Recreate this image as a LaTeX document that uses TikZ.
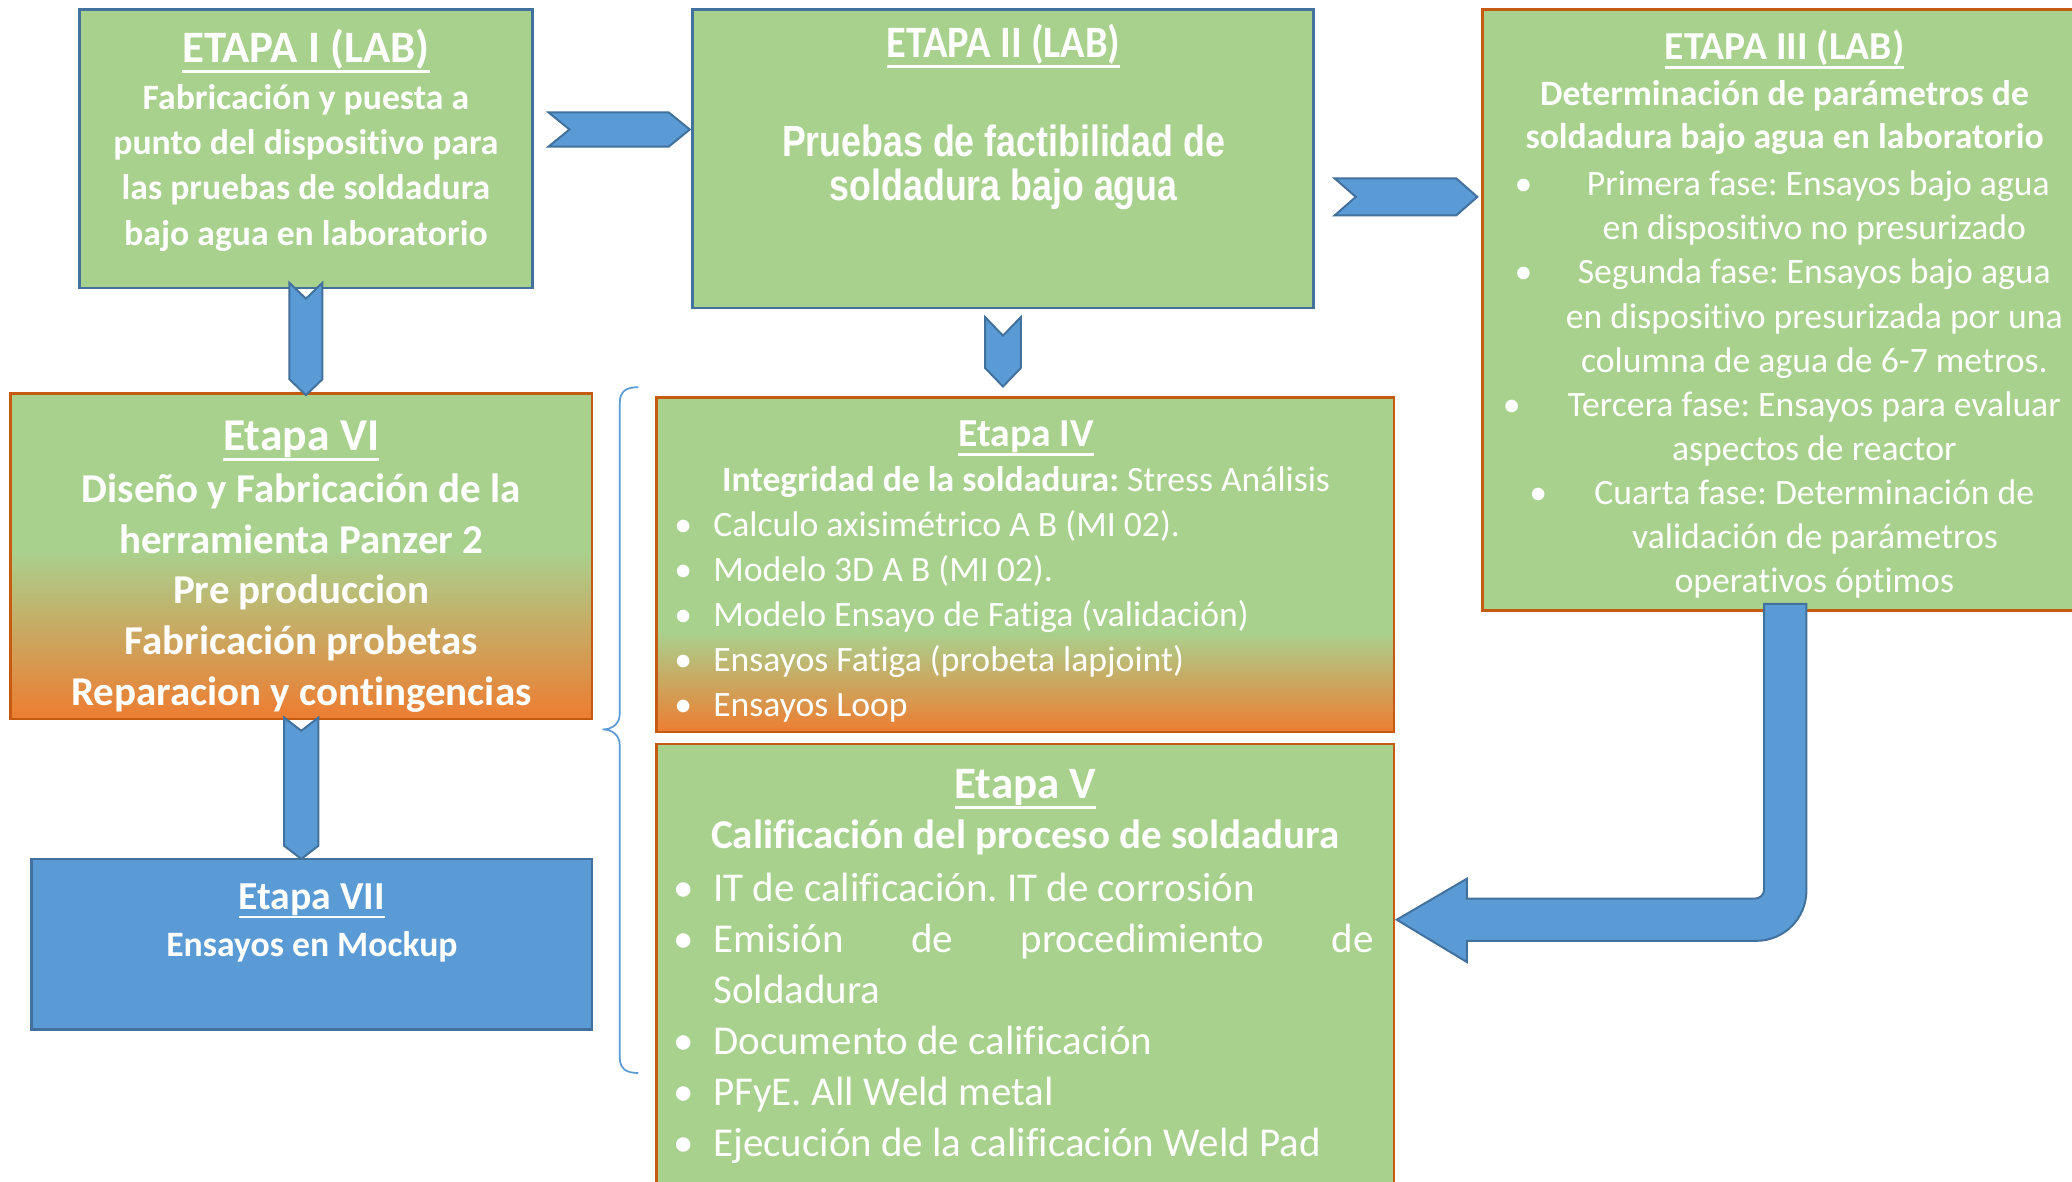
\documentclass[tikz,border=0pt]{standalone}
\usepackage{fontspec}
\setmainfont{Carlito}[Ligatures=CommonOff]
\newfontfamily\narrowsans{Liberation Sans}[FakeStretch=0.82,Ligatures=CommonOff]
\newfontfamily\carlitonarrow{Carlito}[FakeStretch=0.9,Ligatures=CommonOff]
\usetikzlibrary{calc}
\frenchspacing
\definecolor{boxgreen}{HTML}{A9D18E}
\definecolor{boxblue}{HTML}{5B9BD5}
\definecolor{edgeblue}{HTML}{41719C}
\definecolor{edgeorange}{HTML}{C55A11}
\definecolor{gradorange}{HTML}{ED7D31}
\pgfdeclareverticalshading{vishade}{100bp}{color(0bp)=(gradorange); color(25bp)=(gradorange); color(51bp)=(boxgreen); color(100bp)=(boxgreen)}
\pgfdeclareverticalshading{ivshade}{100bp}{color(0bp)=(gradorange); color(25bp)=(gradorange); color(40bp)=(boxgreen); color(100bp)=(boxgreen)}
\newsavebox\ulsave
\newcommand\ultitle[1]{\sbox\ulsave{#1}\rlap{\rule[-0.235em]{\wd\ulsave}{0.065em}}\usebox\ulsave}
% horizontal chevron: #1 left-centre coordinate, #2 length, #3 half height, #4 depth
\newcommand\chevH[4]{\path[blockarrow] (#1) ++(0,-#3) -- ++(#2-#4,0) -- ++(#4,#3) -- ++(-#4,#3) -- ++(#4-#2,0) -- ++(#4,-#3) -- cycle;}
% vertical chevron: #1 top-centre coordinate, #2 length, #3 half width, #4 depth
\newcommand\chevV[4]{\path[blockarrow] (#1) ++(-#3,0) -- ++(#3,#4) -- ++(#3,-#4) -- ++(0,#2-#4) -- ++(-#3,#4) -- ++(-#3,-#4) -- cycle;}
\tikzset{
  stagebox/.style={rectangle, inner sep=0pt, outer sep=0pt, line width=2pt, anchor=north west},
  greenbox/.style={stagebox, fill=boxgreen},
  txt/.style={text=white, inner sep=0pt, outer sep=0pt, anchor=base},
  txtl/.style={txt, anchor=base west},
  blockarrow/.style={fill=boxblue, draw=edgeblue, line width=1.5pt, line join=miter},
  bracestyle/.style={draw=boxblue, line width=1.3pt},
  fbig/.style={font=\fontsize{34}{40}\selectfont\bfseries},
  fmid/.style={font=\fontsize{30}{36}\selectfont\bfseries},
  fbold/.style={font=\fontsize{27}{33}\selectfont\bfseries},
  fboldl/.style={font=\fontsize{31}{38}\selectfont\bfseries},
  freg/.style={font=\fontsize{27}{33}\selectfont},
  fregl/.style={font=\fontsize{31}{38}\selectfont}
}
\begin{document}
\begin{tikzpicture}[x=1pt,y=-1pt]
\useasboundingbox (0,0) rectangle (1568,894);
\fill[white] (0,0) rectangle (1568,894);
\clip (0,0) rectangle (1568,894);

% ---------- boxes ----------
\node[greenbox, draw=edgeblue, minimum width=343, minimum height=211] (e1) at (60,7) {};
\node[greenbox, draw=edgeblue, minimum width=470, minimum height=226] (e2) at (524,7) {};
\node[greenbox, draw=edgeorange, minimum width=480, minimum height=455] (e3) at (1122,7) {};
\node[stagebox, shade, shading=vishade, draw=edgeorange, minimum width=440, minimum height=246] (e6) at (8,298) {};
\node[stagebox, shade, shading=ivshade, draw=edgeorange, minimum width=558, minimum height=253] (e4) at (497,301) {};
\node[greenbox, draw=edgeorange, minimum width=558, minimum height=345] (e5) at (497,563) {};
\node[stagebox, fill=boxblue, draw=edgeblue, minimum width=424, minimum height=129] (e7) at (24,650) {};

% ---------- block arrows ----------
\coordinate (a12) at (415,98);
\coordinate (a23) at (1010,149);
\coordinate (a16) at ($(e1.south)+(0,-4)$);
\coordinate (a24) at ($(e2.south)+(0,7)$);
\coordinate (a67) at ($(e6.south)+(0,-1)$);
\chevH{a12}{107}{13}{16}
\chevH{a23}{108}{14}{16}
\chevV{a16}{85}{12.5}{12}
\chevV{a24}{52.5}{13.5}{14}
\chevV{a67}{107}{13}{10}

% bent arrow from Etapa III to Etapa V
\coordinate (bentTop) at (1351,457);
\coordinate (bentTip) at (1057,696);
\path[blockarrow] ($(bentTop)+(-16,0)$) -- (1335,673) .. controls (1335,677) and (1332,680) .. (1328,680)
  -- (1110,680) -- (1110,665) -- (bentTip) -- (1110,728) -- (1110,712) -- (1329,712)
  .. controls (1350,712) and (1367,695) .. (1367,674) -- ($(bentTop)+(16,0)$) -- cycle;

% brace
\coordinate (brTop) at (483,293);
\coordinate (brMid) at (456,552);
\coordinate (brBot) at (483,812);
\draw[bracestyle] (brTop) .. controls (474,293) and (469,296) .. (469,305) -- (469,540)
  .. controls (469,548) and (463,552) .. (brMid) .. controls (463,552) and (469,556) .. (469,564)
  -- (469,800) .. controls (469,809) and (474,812) .. (brBot);

% ---------- ETAPA I ----------
\node[txt, fbig] (e1t) at (231.5,47.5) {\ultitle{ETAPA I (LAB)}};
\foreach \s [count=\i] in {{Fabricación y puesta a},{punto del dispositivo para},{las pruebas de soldadura},{bajo agua en laboratorio}}
  \node[txt, fbold] (e1l\i) at (231.5,83.2+34.07*\i-34.07) {\s};

% ---------- ETAPA II ----------
\node[txt, font=\fontsize{34}{40}\selectfont\bfseries\carlitonarrow] (e2t) at (759.5,43.4) {\ultitle{ETAPA II (LAB)}};
\node[txt, font=\fontsize{33}{33}\selectfont\narrowsans\bfseries] (e2l1) at (759.5,118.5) {Pruebas de factibilidad de};
\node[txt, font=\fontsize{33}{33}\selectfont\narrowsans\bfseries] (e2l2) at (759.5,151.5) {soldadura bajo agua};

% ---------- ETAPA III ----------
\node[txt, fmid] (e3t) at (1350.5,45) {\ultitle{ETAPA III (LAB)}};
\node[txt, fbold] (e3h1) at (1350.5,80.2) {Determinación de parámetros de};
\node[txt, fbold] (e3h2) at (1350.5,112.2) {soldadura bajo agua en laboratorio};
\foreach \cx/\s [count=\i] in {1376/{Primera fase: Ensayos bajo agua},1373/{en dispositivo no presurizado},1373/{Segunda fase: Ensayos bajo agua},1373/{en dispositivo presurizada por una},1373/{columna de agua de 6-7 metros.},1373/{Tercera fase: Ensayos para evaluar},1373/{aspectos de reactor},1373/{Cuarta fase: Determinación de},1373.5/{validación de parámetros},1373/{operativos óptimos}}
  \node[txt, freg] (e3l\i) at (\cx,148.1+33.4*\i-33.4) {\s};
\node[txt, freg] (e3b1) at (1153,148.1) {•};
\node[txt, freg] (e3b2) at (1153,214.9) {•};
\node[txt, freg] (e3b3) at (1144,315.1) {•};
\node[txt, freg] (e3b4) at (1164,381.9) {•};

% ---------- Etapa IV ----------
\node[txt, fmid] (e4t) at (776.5,338) {\ultitle{Etapa IV}};
\node[txt, freg] (e4h) at (776.5,372) {{\bfseries Integridad de la soldadura:} Stress Análisis};
\foreach \s [count=\i] in {{Calculo axisimétrico A B (MI 02).},{Modelo 3D A B (MI 02).},{Modelo Ensayo de Fatiga (validación)},{Ensayos Fatiga (probeta lapjoint)},{Ensayos Loop}}
{
  \node[txt, freg] (e4b\i) at (517,406+34*\i-34) {•};
  \node[txtl, freg] (e4l\i) at (539.8,406+34*\i-34) {\s};
}

% ---------- Etapa V ----------
\node[txt, fbig] (e5t) at (776,604) {\ultitle{Etapa V}};
\node[txt, fboldl] (e5h) at (776,642) {Calificación del proceso de soldadura};
\node[txtl, fregl] (e5l1) at (539.8,682) {IT de calificación. IT de corrosión};
\node[txtl, fregl] (e5l2) at (539.8,720.7) {\hbox to 500pt{Emisión\hfill de\hfill procedimiento\hfill de}};
\node[txtl, fregl] (e5l3) at (539.8,759.4) {Soldadura};
\node[txtl, fregl] (e5l4) at (539.8,798.1) {Documento de calificación};
\node[txtl, fregl] (e5l5) at (539.8,836.8) {PFyE. All Weld metal};
\node[txtl, fregl] (e5l6) at (539.8,875.5) {Ejecución de la calificación Weld Pad};
\foreach \yy [count=\i] in {682,720.7,798.1,836.8,875.5}
  \node[txt, fregl] (e5b\i) at (517.6,\yy) {•};

% ---------- Etapa VI ----------
\node[txt, font=\fontsize{34.5}{40}\selectfont\bfseries] (e6t) at (228,340.6) {\ultitle{Etapa VI}};
\foreach \s [count=\i] in {{Diseño y Fabricación de la},{herramienta Panzer 2},{Pre produccion},{Fabricación probetas},{Reparacion y contingencias}}
  \node[txt, fboldl] (e6l\i) at (228,380.5+38.28*\i-38.28) {\s};

% ---------- Etapa VII ----------
\node[txt, fmid] (e7t) at (236,688) {\ultitle{Etapa VII}};
\node[txt, fbold] (e7l) at (236,723.5) {Ensayos en Mockup};
\end{tikzpicture}
\end{document}
